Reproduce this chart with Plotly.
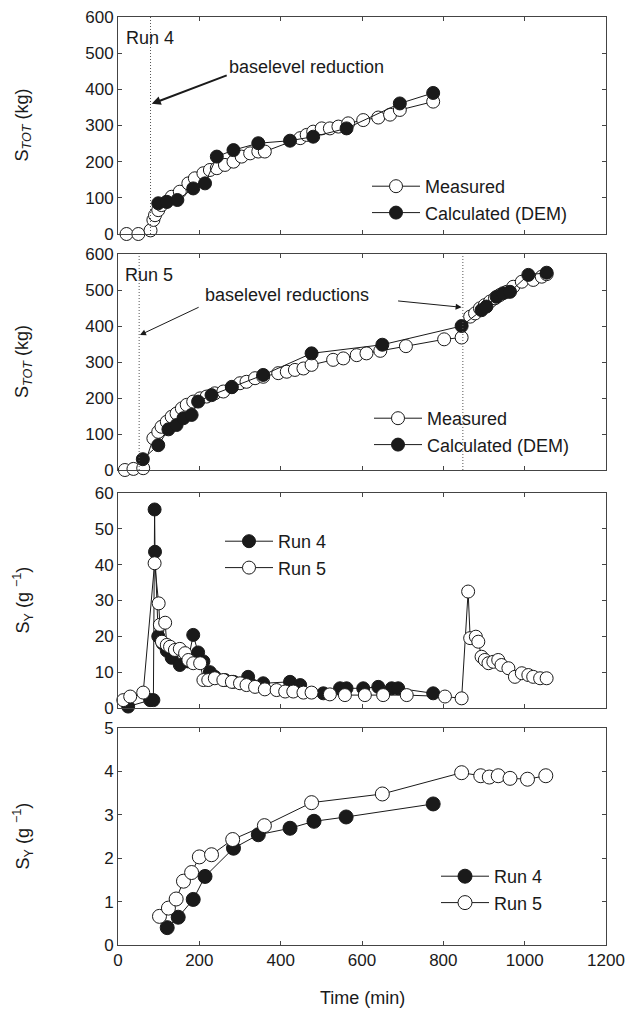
import plotly.graph_objects as go

# ---------------- data ----------------
# Panel 1: Run 4, cumulative sediment S_TOT (kg)
run4_meas_t = [21, 50, 80, 87, 91, 99, 107, 120, 132, 152, 173, 189, 210, 226, 243, 263, 284, 304, 325, 345,
               361, 448, 464, 480, 501, 521, 542, 566, 603, 640, 669, 693, 775]
run4_meas_s = [0, 0, 10, 39, 52, 66, 80, 89, 103, 117, 140, 154, 168, 177, 182, 191, 200, 214, 223, 228,
               228, 265, 274, 283, 292, 292, 297, 306, 315, 322, 330, 343, 366]
run4_calc_t = [99, 120, 146, 185, 214, 243, 284, 345, 423, 480, 562, 693, 775]
run4_calc_s = [85, 89, 94, 126, 140, 214, 232, 251, 258, 269, 292, 361, 390]

# Panel 2: Run 5, cumulative sediment S_TOT (kg)
run5_meas_t = [17, 38, 62, 87, 99, 107, 120, 132, 144, 157, 169, 185, 202, 218, 238, 259, 280, 300, 316, 337,
               357, 394, 415, 435, 456, 476, 529, 554, 587, 611, 645, 708, 802, 845, 866, 878, 890, 902, 915, 927,
               939, 956, 972, 993, 1021, 1042, 1054]
run5_meas_s = [0, 3, 5, 88, 106, 120, 134, 148, 157, 171, 181, 190, 199, 204, 213, 218, 231, 241, 245, 255,
               259, 269, 273, 278, 282, 292, 306, 310, 319, 324, 331, 344, 363, 368, 426, 435, 449, 458, 468, 477,
               486, 495, 509, 523, 528, 537, 544]
run5_calc_t = [61, 99, 124, 144, 161, 181, 197, 230, 280, 357, 476, 650, 845, 894, 906, 931, 947, 964, 1009, 1054]
run5_calc_s = [30, 69, 113, 125, 144, 153, 190, 208, 230, 264, 324, 348, 400, 444, 454, 481, 491, 495, 542, 548]

# Panel 3: sediment yield S_Y (g^-1)
sy_run4_t = [25, 79, 87, 90, 91, 99, 110, 120, 132, 152, 172, 185, 197, 210, 226, 238, 263, 284, 320, 357,
             423, 448, 505, 546, 562, 603, 640, 673, 689, 775]
sy_run4_v = [0.4, 2.2, 2.2, 55.4, 43.6, 20, 18, 16, 14, 12, 13, 20.4, 15.5, 13, 10, 8.7, 7.8, 7.3, 8.7, 6.9,
             7.3, 6.4, 4.1, 5.5, 5.5, 5.5, 5.9, 5.5, 5.5, 4.1]
sy_run5_t = [13, 30, 62, 90, 100, 103, 108, 116, 120, 128, 140, 152, 165, 173, 185, 202, 210, 222, 238, 259,
             280, 300, 316, 337, 361, 390, 411, 431, 456, 476, 521, 558, 607, 652, 710, 804, 845, 861, 866, 880,
             886, 894, 902, 911, 923, 935, 943, 960, 976, 993, 1009, 1021, 1038, 1054]
sy_run5_v = [2.2, 3.2, 4.3, 40.4, 29.2, 23.2, 18.5, 23.8, 17.6, 17.1, 16.2, 16.5, 15.3, 13.4, 12.5, 12.5, 7.8, 7.8, 8.3, 7.8,
             7.3, 6.9, 6.4, 5.9, 5.2, 5.0, 4.6, 4.6, 4.3, 4.3, 3.8, 3.6, 3.6, 3.6, 3.6, 3.2, 2.7, 32.5, 19.5, 19.9,
             18.5, 14.3, 13.4, 12.5, 12.9, 13.4, 12.0, 11.1, 8.7, 9.7, 9.2, 8.7, 8.3, 8.3]

# Panel 4: S_Y (g^-1)
sy2_run4_t = [121, 148, 185, 214, 284, 345, 423, 482, 561, 775]
sy2_run4_v = [0.40, 0.64, 1.05, 1.58, 2.23, 2.54, 2.69, 2.85, 2.95, 3.25]
sy2_run5_t = [102, 124, 143, 161, 181, 200, 230, 282, 360, 476, 650, 845, 892, 913, 935, 964, 1007, 1052]
sy2_run5_v = [0.66, 0.85, 1.06, 1.47, 1.67, 2.03, 2.08, 2.43, 2.75, 3.28, 3.48, 3.97, 3.90, 3.87, 3.90, 3.84, 3.82, 3.90]

# baselevel reduction times (min)
run4_baselevel = [80]
run5_baselevel = [52, 848]

x_ticks = [0, 200, 400, 600, 800, 1000, 1200]

# ---------------- figure ----------------
FONT = "Liberation Sans, Arial, sans-serif"
INK = "#1a1a1a"
AX = "#444444"
W, H = 639, 1012
L, R, T, B = 118, 33, 17, 67
PW = W - L - R
PH = H - T - B

def dom(top_px, bot_px):
    lo = max(0.0, (H - B - bot_px) / PH)
    hi = min(1.0, (H - B - top_px) / PH)
    return [lo, hi]

def px_x(px):
    return (px - L) / PW

def px_y(py):
    return (H - B - py) / PH

domains = [dom(17, 234), dom(254, 470), dom(493, 708), dom(728, 945)]
yranges = [[0, 600], [0, 600], [0, 60], [0, 5]]
ydticks = [100, 100, 10, 1]

fig = go.Figure()

def add(x, y, name, filled, idx, legend, size=13):
    ax = "" if idx == 1 else str(idx)
    fig.add_trace(go.Scatter(
        x=x, y=y, name=name, mode="lines+markers",
        xaxis="x" + ax, yaxis="y" + ax, legend=legend,
        line=dict(color=INK, width=1),
        marker=dict(size=size, symbol="circle",
                    color=INK if filled else "white",
                    line=dict(color=INK, width=1)),
        cliponaxis=False,
    ))

add(run4_meas_t, run4_meas_s, "Measured", False, 1, "legend")
add(run4_calc_t, run4_calc_s, "Calculated (DEM)", True, 1, "legend")
add(run5_meas_t, run5_meas_s, "Measured", False, 2, "legend2")
add(run5_calc_t, run5_calc_s, "Calculated (DEM)", True, 2, "legend2")
add(sy_run4_t, sy_run4_v, "Run 4", True, 3, "legend3")
add(sy_run5_t, sy_run5_v, "Run 5", False, 3, "legend3")
add(sy2_run4_t, sy2_run4_v, "Run 4", True, 4, "legend4", size=14)
add(sy2_run5_t, sy2_run5_v, "Run 5", False, 4, "legend4", size=14)

layout = dict(
    width=W, height=H,
    margin=dict(l=L, r=R, t=T, b=B, pad=0, autoexpand=False),
    paper_bgcolor="white", plot_bgcolor="white",
    font=dict(family=FONT, size=17, color=INK),
)

for i in range(4):
    s = "" if i == 0 else str(i + 1)
    layout["xaxis" + s] = dict(
        domain=[0, 1], anchor="y" + s, range=[0, 1200], tickvals=x_ticks,
        showticklabels=(i == 3), ticks="inside", ticklen=4, tickcolor=AX,
        showline=True, linecolor=AX, linewidth=1, mirror="ticks",
        showgrid=False, zeroline=False, automargin=False,
        tickfont=dict(size=17, family=FONT, color=INK),
    )
    layout["yaxis" + s] = dict(
        domain=domains[i], anchor="x" + s, range=yranges[i], dtick=ydticks[i], tick0=0,
        ticks="inside", ticklen=4, tickcolor=AX,
        showline=True, linecolor=AX, linewidth=1, mirror="ticks",
        showgrid=False, zeroline=False, automargin=False,
        tickfont=dict(size=17, family=FONT, color=INK),
    )

def leg(x_px, top_px):
    return dict(x=px_x(x_px), y=px_y(top_px), xref="paper", yref="paper",
                xanchor="left", yanchor="top", bgcolor="rgba(0,0,0,0)",
                font=dict(size=18, family=FONT, color=INK), itemwidth=48,
                tracegroupgap=0)

layout["legend"] = leg(367, 168)
layout["legend2"] = leg(369, 400)
layout["legend3"] = leg(220, 523)
layout["legend4"] = leg(436, 858)

fig.update_layout(**layout)

# x-axis title
fig.add_annotation(text="Time (min)", xref="paper", yref="paper", x=0.5, y=px_y(998),
                   showarrow=False, xanchor="center", yanchor="middle",
                   font=dict(size=18, family=FONT, color=INK))

# y-axis titles
ytitles = ["S<sub><i>TOT</i></sub> (kg)", "S<sub><i>TOT</i></sub> (kg)",
           "S<sub>Y</sub> (g <sup>\u22121</sup>)", "S<sub>Y</sub> (g <sup>\u22121</sup>)"]
for i, txt in enumerate(ytitles):
    s = "" if i == 0 else str(i + 1)
    fig.add_annotation(text=txt, textangle=-90, xref="paper", yref="y" + s + " domain",
                       x=px_x(23), y=0.5, showarrow=False,
                       font=dict(size=18, family=FONT, color=INK), xanchor="center", yanchor="middle")

# dotted baselevel lines
for t in run4_baselevel:
    fig.add_shape(type="line", xref="x", yref="y domain", x0=t, x1=t, y0=0, y1=1,
                  line=dict(color="#555", width=1, dash="1px,2px"))
for t in run5_baselevel:
    fig.add_shape(type="line", xref="x2", yref="y2 domain", x0=t, x1=t, y0=0, y1=1,
                  line=dict(color="#555", width=1, dash="1px,2px"))

# texts
fig.add_annotation(text="Run 4", xref="x", yref="y", x=14, y=542, showarrow=False,
                   xanchor="left", yanchor="middle", font=dict(size=18, family=FONT, color=INK))
fig.add_annotation(text="Run 5", xref="x2", yref="y2", x=12, y=542, showarrow=False,
                   xanchor="left", yanchor="middle", font=dict(size=18, family=FONT, color=INK))
fig.add_annotation(text="baselevel reduction", xref="x", yref="y", x=268, y=462, showarrow=False,
                   xanchor="left", yanchor="middle", font=dict(size=18, family=FONT, color=INK))
fig.add_annotation(text="baselevel reductions", xref="x2", yref="y2", x=210, y=486, showarrow=False,
                   xanchor="left", yanchor="middle", font=dict(size=18, family=FONT, color=INK))

# arrows
fig.add_annotation(text="", xref="x", yref="y", axref="x", ayref="y",
                   x=83, y=360, ax=271, ay=440, showarrow=True,
                   arrowhead=2, arrowsize=0.9, arrowwidth=2, arrowcolor=INK)
fig.add_annotation(text="", xref="x2", yref="y2", axref="x2", ayref="y2",
                   x=54, y=375, ax=202, ay=454, showarrow=True,
                   arrowhead=2, arrowsize=1.2, arrowwidth=1, arrowcolor=INK)
fig.add_annotation(text="", xref="x2", yref="y2", axref="x2", ayref="y2",
                   x=845, y=452, ax=685, ay=470, showarrow=True,
                   arrowhead=2, arrowsize=1.2, arrowwidth=1, arrowcolor=INK)

fig.write_html("out.html")
